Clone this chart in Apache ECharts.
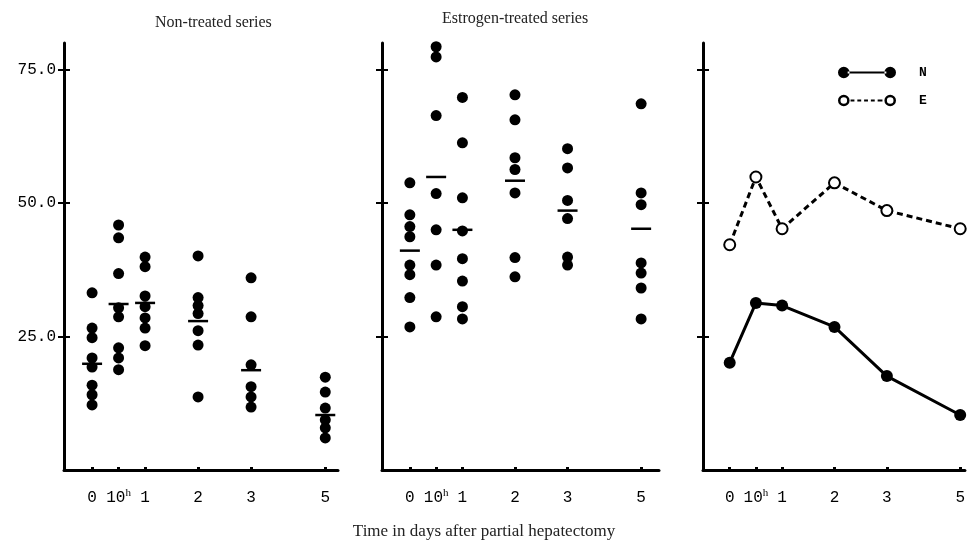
<!DOCTYPE html>
<html>
<head>
<meta charset="utf-8">
<script src="https://cdn.jsdelivr.net/npm/echarts@6/dist/echarts.min.js"></script>
<style>
  html, body { margin: 0; padding: 0; background: #fff; }
  #chart { width: 968px; height: 543px; }
</style>
</head>
<body>
<div id="chart"></div>
<script>
// time points (days after partial hepatectomy), placed on a compressed day scale
const xLabels = ["0", "10h", "1", "2", "3", "5"];
const xPos = [0, 0.5, 1, 2, 3, 4.4];
const yTicks = [25, 50, 75];

// individual values, non-treated series (one list per time point)
const nonTreated = [
  [33.2, 26.6, 24.8, 21.0, 19.3, 15.9, 14.1, 12.2],
  [45.9, 43.5, 36.8, 30.4, 28.7, 22.9, 21.0, 18.8],
  [39.9, 38.1, 32.6, 30.6, 28.5, 26.6, 23.3],
  [40.1, 32.3, 30.8, 29.3, 26.1, 23.4, 13.7],
  [36.0, 28.7, 19.7, 15.6, 13.7, 11.8],
  [17.4, 14.6, 11.6, 9.4, 7.9, 6.0]
];
const nonTreatedMean = [19.9, 31.1, 31.3, 27.9, 18.7, 10.3];

// individual values, estrogen-treated series
const estrogen = [
  [53.8, 47.8, 45.6, 43.7, 38.4, 36.6, 32.3, 26.8],
  [79.3, 77.4, 66.4, 51.8, 45.0, 38.4, 28.7],
  [69.8, 61.3, 51.0, 44.8, 39.6, 35.4, 30.6, 28.3],
  [70.3, 65.6, 58.5, 56.3, 51.9, 39.8, 36.2],
  [60.2, 56.6, 50.5, 47.1, 39.9, 38.4],
  [68.6, 51.9, 49.7, 38.8, 36.9, 34.1, 28.3]
];
const estrogenMean = [41.1, 54.9, 45.0, 54.2, 48.6, 45.2];

// mean curves, right panel
const lineN = [20.1, 31.3, 30.8, 26.8, 17.6, 10.3];
const lineE = [42.2, 54.9, 45.2, 53.8, 48.6, 45.2];

const mono = "Liberation Mono";
const serif = "Liberation Serif";

function points(groups) {
  const out = [];
  groups.forEach((vals, i) => vals.forEach(v => out.push([xPos[i], v])));
  return out;
}
function pairs(vals) {
  return vals.map((v, i) => [xPos[i], v]);
}
function xLabel(value) {
  let i = 0;
  xPos.forEach((p, k) => { if (Math.abs(p - value) < Math.abs(xPos[i] - value)) i = k; });
  return i === 1 ? "{a|10}{b|h}" : xLabels[i];
}

const grids = [
  { left: 64, top: 43, width: 274, height: 427, min: -0.53, max: 4.64 },
  { left: 382, top: 43, width: 277, height: 427, min: -0.53, max: 4.74 },
  { left: 703, top: 43, width: 265, height: 427, min: -0.51, max: 4.49 }
];

const xAxes = grids.map((g, i) => ({
  type: "value",
  gridIndex: i,
  min: g.min,
  max: g.max,
  splitLine: { show: false },
  axisLine: { onZero: false, lineStyle: { color: "#000", width: 3 } },
  axisTick: { customValues: xPos, inside: true, length: 3, lineStyle: { color: "#000", width: 3 } },
  axisLabel: {
    customValues: xPos,
    formatter: xLabel,
    margin: 20,
    color: "#000",
    fontFamily: mono,
    fontSize: 16,
    rich: {
      a: { fontFamily: mono, fontSize: 16, color: "#000", lineHeight: 16 },
      b: { fontFamily: serif, fontSize: 11, color: "#000", lineHeight: 16, padding: [0, 0, 9, 0] }
    }
  }
}));

const yAxes = [];
grids.forEach((g, i) => {
  yAxes.push({
    type: "value",
    gridIndex: i,
    min: 0,
    max: 80,
    splitLine: { show: false },
    axisLine: { onZero: false, lineStyle: { color: "#000", width: 3 } },
    axisTick: { customValues: yTicks, length: 6, lineStyle: { color: "#000", width: 2 } },
    axisLabel: {
      show: i === 0,
      customValues: yTicks,
      formatter: v => v.toFixed(1),
      margin: 8,
      color: "#000",
      fontFamily: mono,
      fontSize: 16
    }
  });
  // second axis only to draw the inner half of the cross ticks
  yAxes.push({
    type: "value",
    gridIndex: i,
    position: "left",
    min: 0,
    max: 80,
    splitLine: { show: false },
    axisLine: { show: false, onZero: false },
    axisTick: { customValues: yTicks, inside: true, length: 6, lineStyle: { color: "#000", width: 2 } },
    axisLabel: { show: false }
  });
});

const dot = { type: "scatter", symbol: "circle", symbolSize: 11, itemStyle: { color: "#000", opacity: 1 } };
const dash = { type: "scatter", symbol: "rect", symbolSize: [20, 2.5], itemStyle: { color: "#000", opacity: 1 } };

const iconN = "path://M0,6a6,6 0 1,0 12,0a6,6 0 1,0 -12,0Z M10,5L50,5L50,7L10,7Z M48,6a6,6 0 1,0 12,0a6,6 0 1,0 -12,0Z";
const iconE = "path://M0,6a6,6 0 1,0 12,0a6,6 0 1,0 -12,0Z M2.6,6a3.4,3.4 0 1,1 6.8,0a3.4,3.4 0 1,1 -6.8,0Z " +
  "M13,5L17,5L17,7L13,7Z M20,5L24,5L24,7L20,7Z M27,5L31,5L31,7L27,7Z M34,5L38,5L38,7L34,7Z M41,5L46,5L46,7L41,7Z " +
  "M48,6a6,6 0 1,0 12,0a6,6 0 1,0 -12,0Z M50.6,6a3.4,3.4 0 1,1 6.8,0a3.4,3.4 0 1,1 -6.8,0Z";

const chart = echarts.init(document.getElementById("chart"));
chart.setOption({
  animation: false,
  backgroundColor: "#fff",
  title: [
    { text: "Non-treated series", left: 150, top: 10, textStyle: { fontFamily: serif, fontSize: 16, fontWeight: "normal", color: "#222" } },
    { text: "Estrogen-treated series", left: 437, top: 6, textStyle: { fontFamily: serif, fontSize: 16, fontWeight: "normal", color: "#222" } },
    { text: "Time in days after partial hepatectomy", left: "center", top: 518, textStyle: { fontFamily: serif, fontSize: 17, fontWeight: "normal", color: "#222" } }
  ],
  legend: {
    left: 833,
    top: 61,
    orient: "vertical",
    itemWidth: 58,
    itemHeight: 14,
    itemGap: 15,
    textStyle: { fontFamily: mono, fontSize: 13, fontWeight: "bold", color: "#000", padding: [0, 0, 0, 18] },
    data: [
      { name: "N", icon: iconN },
      { name: "E", icon: iconE }
    ]
  },
  grid: grids.map(g => ({ left: g.left, top: g.top, width: g.width, height: g.height })),
  xAxis: xAxes,
  yAxis: yAxes,
  series: [
    Object.assign({}, dot, { name: "non-treated", xAxisIndex: 0, yAxisIndex: 0, data: points(nonTreated) }),
    Object.assign({}, dash, { name: "non-treated mean", xAxisIndex: 0, yAxisIndex: 0, data: pairs(nonTreatedMean), z: 3 }),
    Object.assign({}, dot, { name: "estrogen", xAxisIndex: 1, yAxisIndex: 2, data: points(estrogen) }),
    Object.assign({}, dash, { name: "estrogen mean", xAxisIndex: 1, yAxisIndex: 2, data: pairs(estrogenMean), z: 3 }),
    {
      name: "N", type: "line", xAxisIndex: 2, yAxisIndex: 4,
      data: pairs(lineN),
      symbol: "circle", symbolSize: 12,
      lineStyle: { color: "#000", width: 3 },
      itemStyle: { color: "#000" }
    },
    {
      name: "E", type: "line", xAxisIndex: 2, yAxisIndex: 4,
      data: pairs(lineE),
      symbol: "emptyCircle", symbolSize: 11,
      lineStyle: { color: "#000", width: 3, type: [6, 4] },
      itemStyle: { color: "#000", borderWidth: 3 }
    }
  ]
});
</script>
</body>
</html>
